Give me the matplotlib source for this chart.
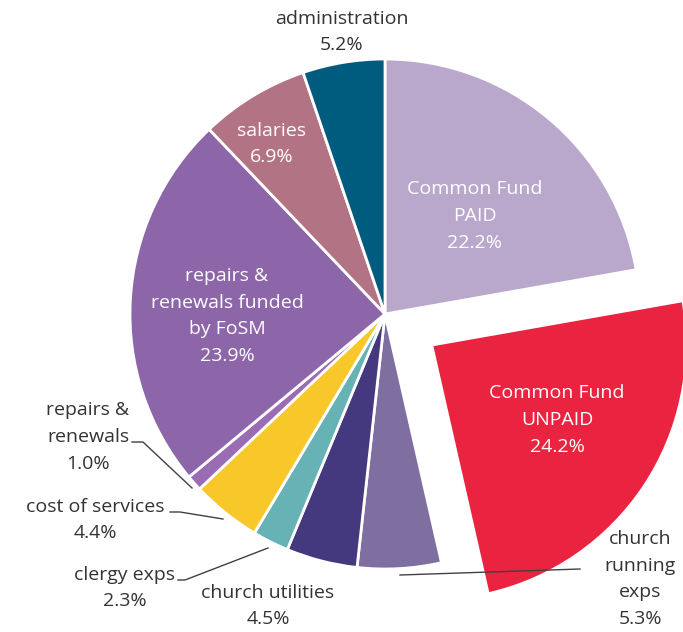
import matplotlib.pyplot as plt

# data (clockwise from 12 o'clock)
categories = ['Common Fund\nPAID', 'Common Fund\nUNPAID', 'church\nrunning\nexps',
              'church utilities', 'clergy exps', 'cost of services',
              'repairs &\nrenewals', 'repairs &\nrenewals funded\nby FoSM',
              'salaries', 'administration']
shares = [22.2, 24.2, 5.3, 4.5, 2.3, 4.4, 1.0, 23.9, 6.9, 5.2]
colors = ['#B9A8CC', '#E92340', '#7F6FA0', '#44397E', '#66B2B4',
          '#F8C82B', '#9A6CB3', '#8C66A9', '#B27484', '#005C7E']
explode = [0, 0.22, 0, 0, 0, 0, 0, 0, 0, 0]

plt.rcParams['font.family'] = ['Open Sans', 'DejaVu Sans']

fig = plt.figure(figsize=(6.83, 6.32), dpi=100)
ax = fig.add_axes([0, 0, 1, 1])
R = 255.0
cx, cy = 385, 314

def d(px, py):
    return ((px - cx) / R, (cy - py) / R)

wedges, _ = ax.pie(shares, colors=colors, explode=explode, startangle=90,
                   counterclock=False, radius=1.0,
                   wedgeprops=dict(edgecolor='white', linewidth=2))

ax.set_xlim(-cx / R, (683 - cx) / R)
ax.set_ylim(-(632 - cy) / R, cy / R)
ax.set_aspect('equal')
ax.axis('off')

# label positions in pixel coordinates of the original layout
label_pos = [(475, 216, 'white'), (557, 420, 'white'), (640, 579, '#333333'),
             (268, 606, '#333333'), (125, 588, '#333333'), (95, 520, '#333333'),
             (88, 437, '#333333'), (227, 316, 'white'), (272, 144, 'white'),
             (342, 32, '#333333')]

for cat, val, (px, py, col) in zip(categories, shares, label_pos):
    x, y = d(px, py)
    ax.text(x, y, f'{cat}\n{val:.1f}%', ha='center', va='center',
            fontsize=14, color=col, linespacing=1.62)

# leader lines
leaders = [
    [(132, 442), (143, 442), (192, 488)],
    [(170, 512), (180, 512), (223, 519)],
    [(178, 580), (185, 580), (268, 548)],
    [(400, 575), (580, 569)],
]
for pts in leaders:
    xs, ys = zip(*[d(px, py) for px, py in pts])
    ax.plot(xs, ys, color='#404040', linewidth=1)

plt.savefig('out.png', dpi=100)
